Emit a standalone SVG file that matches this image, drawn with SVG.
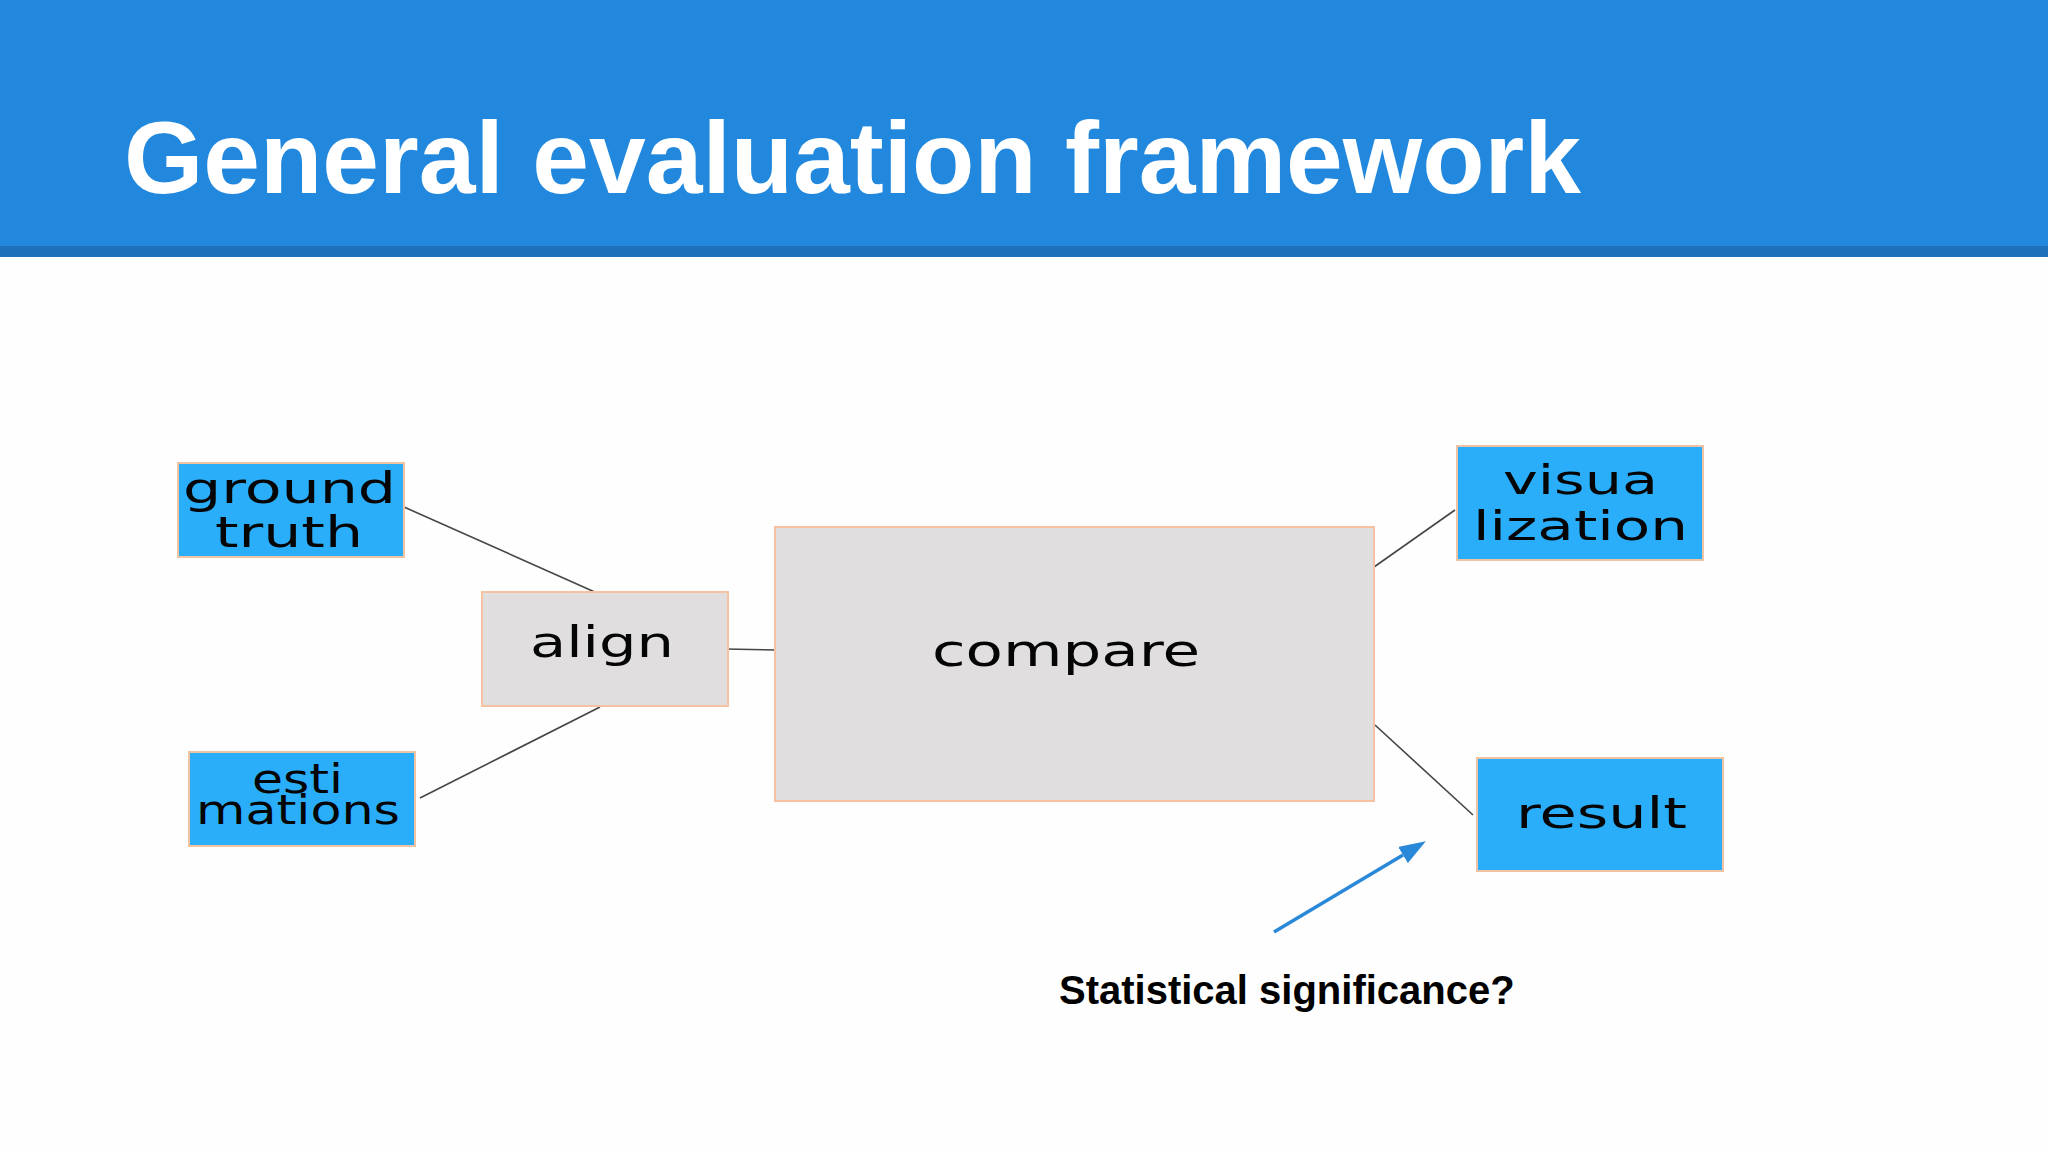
<svg xmlns="http://www.w3.org/2000/svg" width="2048" height="1152" viewBox="0 0 2048 1152">
<style>
.title{font-family:"Liberation Sans",Arial,sans-serif;font-weight:bold;fill:#ffffff;font-size:102px}
.note{font-family:"Liberation Sans",Arial,sans-serif;font-weight:bold;fill:#000000;font-size:40px}
.lbl{font-family:"DejaVu Sans",Verdana,sans-serif;fill:#050505}
.blue{fill:#2aaefa;stroke:#f2c3a3;stroke-width:2}
.gray{fill:#e0dedf;stroke:#f5c3a2;stroke-width:2}
.conn{stroke:#454545;stroke-width:1.6;fill:none}
.arrow{stroke:#2a88d8;stroke-width:3.5;fill:none}
</style>
<defs>
<marker id="ah" markerWidth="7.6" markerHeight="5.4" refX="0" refY="2.7" orient="auto" markerUnits="strokeWidth">
<path d="M0,0 L7.6,2.7 L0,5.4 Z" fill="#2a88d8"/>
</marker>
</defs>
<rect x="0" y="0" width="2048" height="1152" fill="#fefefe"/>
<g id="header">
<rect x="0" y="0" width="2048" height="247" fill="#2288dd"/>
<rect x="0" y="246" width="2048" height="11" fill="#1f70bb"/>
<text class="title" x="124" y="193">General evaluation framework</text>
</g>
<g id="connectors">
<line class="conn" x1="404" y1="507" x2="597" y2="593"/>
<line class="conn" x1="420" y1="798" x2="600" y2="707"/>
<line class="conn" x1="726" y1="649" x2="775" y2="650"/>
<line class="conn" x1="1374" y1="567" x2="1455" y2="510"/>
<line class="conn" x1="1375" y1="725" x2="1473" y2="815"/>
<line class="arrow" x1="1274" y1="932" x2="1403" y2="855" marker-end="url(#ah)"/>
</g>
<g id="ground-truth">
<rect class="blue" x="178" y="463" width="226" height="94"/>
<text class="lbl" font-size="43" x="183" y="503" textLength="213" lengthAdjust="spacingAndGlyphs">ground</text>
<text class="lbl" font-size="42" x="215" y="547" textLength="148" lengthAdjust="spacingAndGlyphs">truth</text>
</g>
<g id="estimations">
<rect class="blue" x="189" y="752" width="226" height="94"/>
<text class="lbl" font-size="40" x="252" y="793" textLength="91" lengthAdjust="spacingAndGlyphs">esti</text>
<text class="lbl" font-size="40" x="196" y="824" textLength="204" lengthAdjust="spacingAndGlyphs">mations</text>
</g>
<g id="align">
<rect class="gray" x="482" y="592" width="246" height="114"/>
<text class="lbl" font-size="43" x="530" y="657" textLength="144" lengthAdjust="spacingAndGlyphs">align</text>
</g>
<g id="compare">
<rect class="gray" x="775" y="527" width="599" height="274"/>
<text class="lbl" font-size="45" x="932" y="666" textLength="268" lengthAdjust="spacingAndGlyphs">compare</text>
</g>
<g id="visualization">
<rect class="blue" x="1457" y="446" width="246" height="114"/>
<text class="lbl" font-size="41" x="1503" y="494" textLength="155" lengthAdjust="spacingAndGlyphs">visua</text>
<text class="lbl" font-size="41" x="1473" y="540" textLength="215" lengthAdjust="spacingAndGlyphs">lization</text>
</g>
<g id="result">
<rect class="blue" x="1477" y="758" width="246" height="113"/>
<text class="lbl" font-size="42" x="1516" y="828" textLength="171" lengthAdjust="spacingAndGlyphs">result</text>
</g>
<g id="note">
<text class="note" x="1059" y="1004">Statistical significance?</text>
</g>
</svg>
